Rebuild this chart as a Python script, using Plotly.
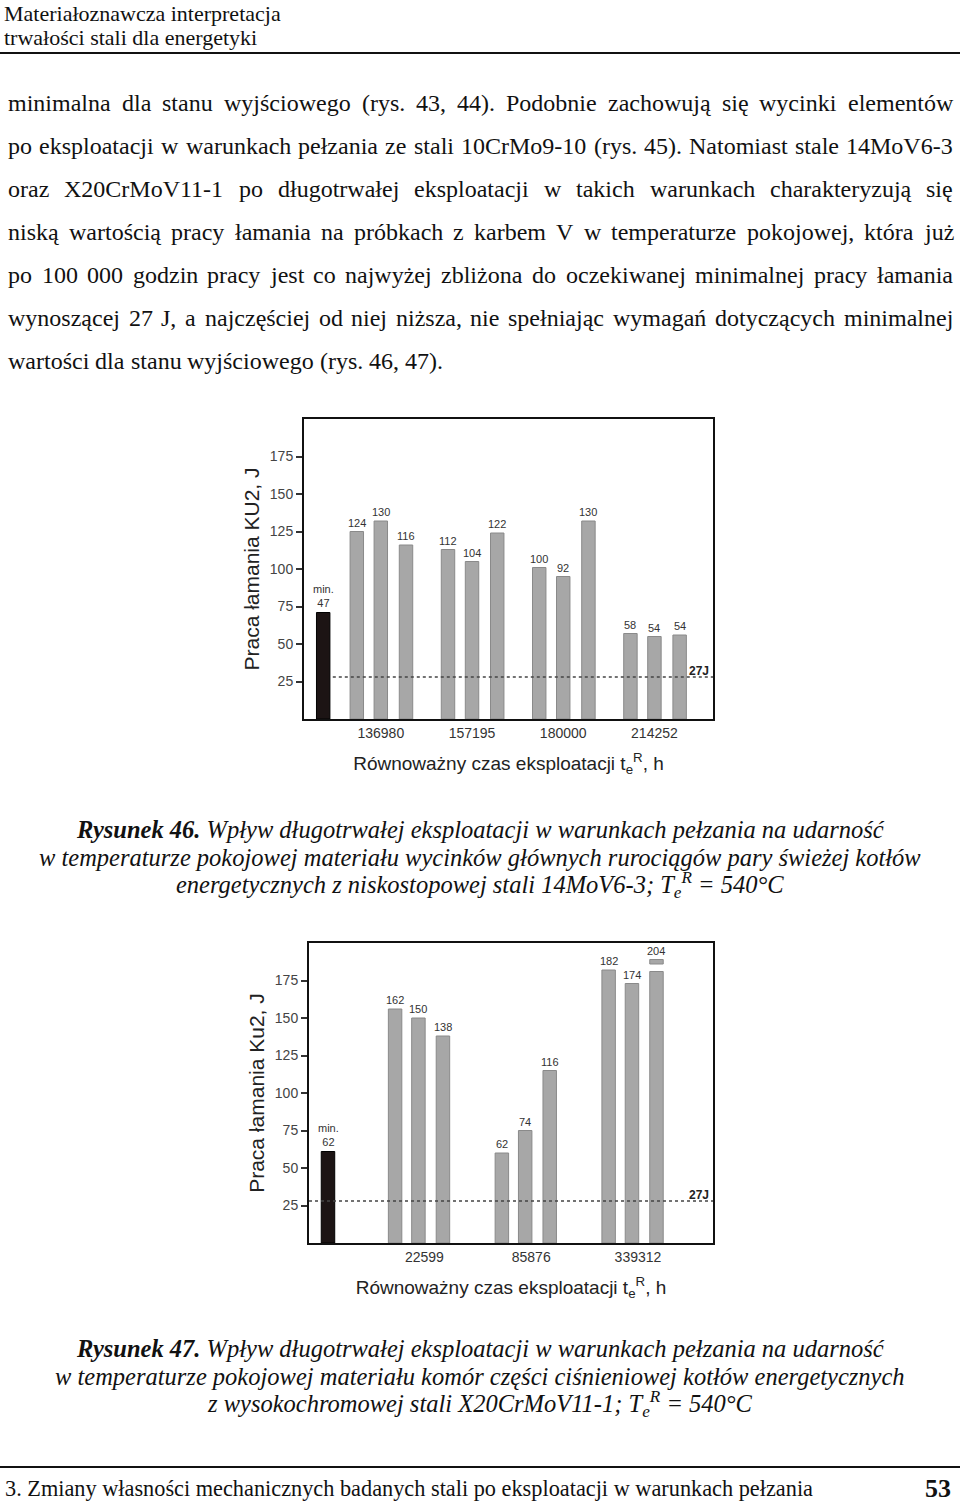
import plotly.graph_objects as go

W, H = 960, 1502

# ---------------- data ----------------
# Figure 46 (14MoV6-3)
groups46 = ["136980", "157195", "180000", "214252"]
ref46_label = "min.<br>47"
ref46_height = 71
heights46 = [[125, 132, 116], [113, 105, 124], [101, 95, 132], [57, 55, 56]]
labels46 = [[124, 130, 116], [112, 104, 122], [100, 92, 130], [58, 54, 54]]

# Figure 47 (X20CrMoV11-1)
groups47 = ["22599", "85876", "339312"]
ref47_label = "min.<br>62"
ref47_height = 61
heights47 = [[156, 150, 138], [60, 75, 115], [182, 173, 181]]
labels47 = [[162, 150, 138], [62, 74, 116], [182, 174, 204]]
break47 = (186, 189)  # small piece above the truncated 204 J bar

limit_value = 28
limit_label = "27J"
y_ticks = [25, 50, 75, 100, 125, 150, 175]

body_lines = [
    "minimalna dla stanu wyjściowego (rys. 43, 44). Podobnie zachowują się wycinki elementów",
    "po eksploatacji w warunkach pełzania ze stali 10CrMo9-10 (rys. 45). Natomiast stale 14MoV6-3",
    "oraz X20CrMoV11-1 po długotrwałej eksploatacji w takich warunkach charakteryzują się",
    "niską wartością pracy łamania na próbkach z karbem V w temperaturze pokojowej, która już",
    "po 100 000 godzin pracy jest co najwyżej zbliżona do oczekiwanej minimalnej pracy łamania",
    "wynoszącej 27 J, a najczęściej od niej niższa, nie spełniając wymagań dotyczących minimalnej",
    "wartości dla stanu wyjściowego (rys. 46, 47).",
]
cap46 = [
    "<b>Rysunek 46.</b> Wpływ długotrwałej eksploatacji w warunkach pełzania na udarność",
    "w temperaturze pokojowej materiału wycinków głównych rurociągów pary świeżej kotłów",
    "energetycznych z niskostopowej stali 14MoV6-3; T<sub>e</sub><sup>R</sup> = 540°C",
]
cap47 = [
    "<b>Rysunek 47.</b> Wpływ długotrwałej eksploatacji w warunkach pełzania na udarność",
    "w temperaturze pokojowej materiału komór części ciśnieniowej kotłów energetycznych",
    "z wysokochromowej stali X20CrMoV11-1; T<sub>e</sub><sup>R</sup> = 540°C",
]
header = ["Materiałoznawcza interpretacja", "trwałości stali dla energetyki"]
footer_left = "3. Zmiany własności mechanicznych badanych stali po eksploatacji w warunkach pełzania"
footer_right = "53"

# ---------------- styling ----------------
GRAY = "#a7a7a7"
GRAY_EDGE = "#8a8a8a"
BLACK_BAR = "#1c1414"
SANS = "Liberation Sans, Arial, sans-serif"
SERIF = "Liberation Serif, Times New Roman, serif"

# Times-Roman advance widths (1/1000 em) used to justify the body lines
TW = dict(zip("abcdefghijklmnopqrstuvwxyz",
              [444, 500, 444, 500, 444, 333, 500, 500, 278, 278, 500, 278, 778, 500, 500, 500,
               500, 333, 389, 278, 500, 500, 722, 500, 500, 444]))
TW.update(dict(zip("ABCDEFGHIJKLMNOPQRSTUVWXYZ",
                   [722, 667, 667, 722, 611, 556, 722, 722, 333, 389, 722, 611, 889, 722, 722,
                    556, 722, 667, 556, 611, 722, 722, 944, 722, 722, 611])))
TW.update({c: 500 for c in "0123456789"})
TW.update({".": 250, ",": 250, "-": 333, "(": 333, ")": 333, " ": 250,
           "ą": 444, "ę": 444, "ł": 278, "ś": 389, "ż": 444, "ź": 444, "ó": 500, "ń": 500,
           "ć": 444, "Ł": 611, "Ś": 556, "Ż": 611})


def tw(word, size):
    return sum(TW.get(c, 500) for c in word) * size / 1000.0


def px_x(x):
    return x / W


def px_y(y):
    return 1 - y / H


fig = go.Figure()
annotations = []
shapes = []


def add_chart(xa, ya, groups, heights, labels, ref_h, ref_lab, centers, offsets,
              ref_x, tick_pos, xmax, ytitle, line_x0, extra=None):
    xref = xa.replace("xaxis", "x")
    yref = ya.replace("yaxis", "y")
    xs, hs, ls = [], [], []
    for g, (hh, ll) in enumerate(zip(heights, labels)):
        for k, (h, l) in enumerate(zip(hh, ll)):
            xs.append(centers[g] + offsets[k])
            hs.append(h)
            ls.append(str(l))
    fig.add_trace(go.Bar(x=[ref_x], y=[ref_h], width=0.56, marker=dict(color=BLACK_BAR,
                  line=dict(color="#000", width=1)), xaxis=xref, yaxis=yref, showlegend=False,
                  hoverinfo="skip"))
    fig.add_trace(go.Bar(x=xs, y=hs, width=0.56, marker=dict(color=GRAY,
                  line=dict(color=GRAY_EDGE, width=1)), xaxis=xref, yaxis=yref, showlegend=False,
                  hoverinfo="skip"))
    top_override = {}
    if extra is not None:
        idx, (b0, b1) = extra
        fig.add_trace(go.Bar(x=[xs[idx]], y=[b1 - b0], base=[b0], width=0.56,
                      marker=dict(color=GRAY, line=dict(color=GRAY_EDGE, width=1)),
                      xaxis=xref, yaxis=yref, showlegend=False, hoverinfo="skip"))
        top_override[idx] = b1
    for i, (x, h, l) in enumerate(zip(xs, hs, ls)):
        annotations.append(dict(x=x, y=top_override.get(i, h), xref=xref, yref=yref, text=l,
                                showarrow=False, yanchor="bottom", yshift=1,
                                font=dict(family=SANS, size=11, color="#333")))
    annotations.append(dict(x=ref_x, y=ref_h, xref=xref, yref=yref, text=ref_lab,
                            showarrow=False, yanchor="bottom", yshift=2,
                            font=dict(family=SANS, size=11, color="#333")))
    shapes.append(dict(type="line", xref=xref, yref=yref, x0=line_x0, x1=xmax,
                       y0=limit_value, y1=limit_value,
                       line=dict(color="#444", width=1.5, dash="dot"), layer="above"))
    annotations.append(dict(x=xmax, y=limit_value, xref=xref, yref=yref, text="<b>" + limit_label + "</b>",
                            showarrow=False, xanchor="right", yanchor="bottom", xshift=-2, yshift=-3,
                            font=dict(family=SANS, size=12, color="#222")))
    common = dict(showline=True, linecolor="#111", linewidth=2, mirror=True, showgrid=False,
                  zeroline=False)
    fig.layout[xa].update(range=[0, xmax], tickmode="array", tickvals=tick_pos, ticktext=groups,
                          ticks="", tickfont=dict(family=SANS, size=14, color="#333"),
                          title=dict(text="Równoważny czas eksploatacji t<sub>e</sub><sup>R</sup>, h",
                                     font=dict(family=SANS, size=19, color="#222"), standoff=17),
                          **common)
    fig.layout[ya].update(range=[0, 200], tickmode="array", tickvals=y_ticks,
                          ticks="outside", ticklen=6, tickwidth=1.5, tickcolor="#333",
                          tickfont=dict(family=SANS, size=14, color="#444"),
                          title=dict(text=ytitle, font=dict(family=SANS, size=21, color="#222"),
                                     standoff=4),
                          **common)


# chart 46
c46 = [3.2 + 3.8 * g for g in range(len(groups46))]
fig.layout.xaxis = dict(domain=[px_x(304), px_x(713)], anchor="y")
fig.layout.yaxis = dict(domain=[px_y(719), px_y(419)], anchor="x")
add_chart("xaxis", "yaxis", groups46, heights46, labels46, ref46_height, ref46_label,
          c46, [-1.0, 0.0, 1.05], 0.8, c46, 17.04, "Praca łamania KU2, J", 1.2)

# chart 47
c47 = [4.55 + 4.44 * g for g in range(len(groups47))]
fig.layout.xaxis2 = dict(domain=[px_x(309), px_x(713)], anchor="y2")
fig.layout.yaxis2 = dict(domain=[px_y(1243), px_y(943)], anchor="x2")
add_chart("xaxis2", "yaxis2", groups47, heights47, labels47, ref47_height, ref47_label,
          c47, [-0.97, 0.0, 1.02], 0.79, [c + 0.25 for c in c47], 16.8,
          "Praca łamania Ku2, J", 0.0, extra=(8, break47))

# page header
for i, t in enumerate(header):
    annotations.append(dict(x=px_x(2), y=px_y(13 + 25 * i), xref="paper", yref="paper", text=t,
                            showarrow=False, xanchor="left", yanchor="middle",
                            font=dict(family=SERIF, size=22, color="#111")))
shapes.append(dict(type="line", xref="paper", yref="paper", x0=0, x1=1, y0=px_y(53), y1=px_y(53),
                   line=dict(color="#111", width=2)))

# justified body text
BODY_SIZE = 24
LEFT, RIGHT = 7, 952
for i, line in enumerate(body_lines):
    y = px_y(103 + 43 * i)
    words = line.split(" ")
    if i == len(body_lines) - 1 or len(words) < 2:
        gap = TW[" "] * BODY_SIZE / 1000.0
    else:
        total = sum(tw(w, BODY_SIZE) for w in words)
        gap = (RIGHT - LEFT - total) / (len(words) - 1)
    x = LEFT
    for w in words:
        annotations.append(dict(x=px_x(x), y=y, xref="paper", yref="paper", text=w,
                                showarrow=False, xanchor="left", yanchor="middle", borderpad=0,
                                font=dict(family=SERIF, size=BODY_SIZE, color="#111")))
        x += tw(w, BODY_SIZE) + gap

# captions
for cap, y0 in ((cap46, 829), (cap47, 1348)):
    for i, t in enumerate(cap):
        annotations.append(dict(x=0.5, y=px_y(y0 + 28 * i), xref="paper", yref="paper",
                                text="<i>" + t + "</i>", showarrow=False, xanchor="center",
                                yanchor="middle",
                                font=dict(family=SERIF, size=24.5, color="#111")))

# footer
shapes.append(dict(type="line", xref="paper", yref="paper", x0=0, x1=1, y0=px_y(1467), y1=px_y(1467),
                   line=dict(color="#111", width=2)))
annotations.append(dict(x=px_x(3), y=px_y(1488), xref="paper", yref="paper", text=footer_left,
                        showarrow=False, xanchor="left", yanchor="middle",
                        font=dict(family=SERIF, size=22.3, color="#111")))
annotations.append(dict(x=px_x(953), y=px_y(1488), xref="paper", yref="paper",
                        text="<b>" + footer_right + "</b>", showarrow=False, xanchor="right",
                        yanchor="middle", font=dict(family=SERIF, size=26, color="#111")))

fig.update_layout(width=W, height=H, margin=dict(l=0, r=0, t=0, b=0),
                  paper_bgcolor="white", plot_bgcolor="white", barmode="overlay",
                  annotations=annotations, shapes=shapes, showlegend=False)

fig.write_html("out.html", config={"displayModeBar": False},
               post_script="document.documentElement.style.margin='0';"
                           "document.body.style.margin='0';"
                           "document.body.style.overflow='hidden';")
